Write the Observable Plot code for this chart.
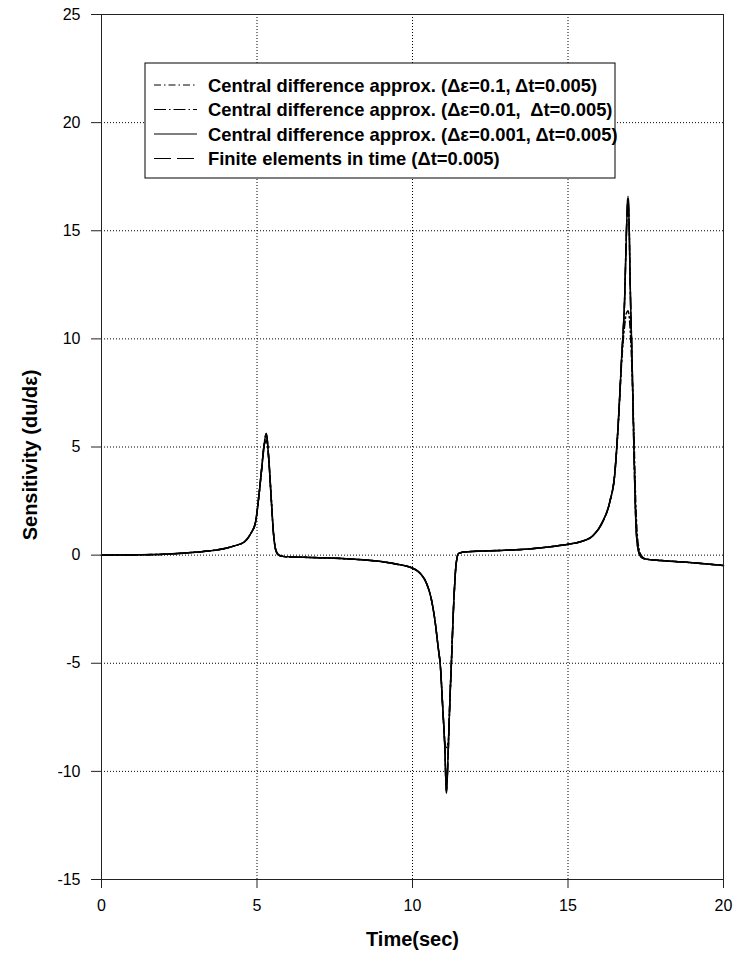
<!DOCTYPE html>
<html><head><meta charset="utf-8">
<script src="https://cdn.jsdelivr.net/npm/d3@7"></script>
<script src="https://cdn.jsdelivr.net/npm/@observablehq/plot@0.6"></script>
<style>
body{margin:0;background:#fff}
svg{font-family:"Liberation Sans",Arial,Helvetica,sans-serif}
</style>
</head><body><div id="chart"></div>
<script>
// Time (sec)
const time = [0,1,2,3,3.5, 4,4.3,4.6,4.8,4.95, 5.05,5.15,5.22,5.3,5.38, 5.46,5.53,5.6,5.7,5.85,
  6,6.5,7,8,9, 9.5,10,10.25,10.45,10.6, 10.72,10.82,10.9,10.97,11.04, 11.09,11.15,11.2,11.25,11.32,
  11.4,11.48,11.6,11.8,12.5, 13.5,14.5,15,15.4,15.8, 16.1,16.35,16.5,16.62,16.72, 16.82,16.88,16.93,16.97,17,
  17.06,17.12,17.18,17.25,17.35, 17.5,18,19,20];

// Central difference approx. (Δε=0.1)
const cd01 = [0,0.01,0.04,0.13,0.2, 0.32,0.44,0.62,1.0,1.5, 2.6,3.95,4.9,5.3,4.45, 2.6,1.05,0.28,0.0,-0.06,
  -0.08,-0.1,-0.12,-0.18,-0.3, -0.42,-0.6,-0.85,-1.3,-2.0, -3.0,-4.2,-5.2,-7.0,-8.6, -8.9,-8.6,-6.8,-5.0,-2.4,
  -0.45,0.08,0.13,0.16,0.2, 0.26,0.4,0.5,0.62,0.9, 1.5,2.5,3.7,6.1,8.8, 10.6,11.2,11.3,11.0,10.4,
  8.4,5.6,2.4,0.6,0.0, -0.18,-0.25,-0.35,-0.48];

// Central difference approx. (Δε=0.01)
const cd001 = [0,0.01,0.04,0.13,0.2, 0.32,0.44,0.62,1.0,1.5, 2.6,4.0,5.0,5.6,4.4, 2.55,1.0,0.25,0.0,-0.06,
  -0.08,-0.1,-0.12,-0.18,-0.3, -0.42,-0.6,-0.85,-1.3,-2.0, -3.0,-4.2,-5.2,-7.0,-8.9, -10.9,-9.0,-6.8,-5.0,-2.4,
  -0.45,0.08,0.13,0.16,0.2, 0.26,0.4,0.5,0.62,0.9, 1.5,2.5,3.7,6.2,9.0, 11.8,15.0,16.5,15.0,12.5,
  9.0,4.9,1.6,0.3,-0.08, -0.18,-0.25,-0.35,-0.48];

// Central difference approx. (Δε=0.001)
const cd0001 = [0,0.01,0.04,0.13,0.2, 0.32,0.44,0.62,1.0,1.5, 2.6,4.0,5.0,5.62,4.4, 2.55,1.0,0.25,0.0,-0.06,
  -0.08,-0.1,-0.12,-0.18,-0.3, -0.42,-0.6,-0.85,-1.3,-2.0, -3.0,-4.2,-5.2,-7.0,-8.9, -11.0,-9.0,-6.8,-5.0,-2.4,
  -0.45,0.08,0.13,0.16,0.2, 0.26,0.4,0.5,0.62,0.9, 1.5,2.5,3.7,6.2,9.0, 11.8,15.0,16.6,15.0,12.5,
  9.0,4.9,1.6,0.3,-0.08, -0.18,-0.25,-0.35,-0.48];

// Finite elements in time (Δt=0.005)
const fet = [0,0.01,0.04,0.13,0.2, 0.32,0.44,0.62,1.0,1.5, 2.6,4.0,5.0,5.62,4.4, 2.55,1.0,0.25,0.0,-0.06,
  -0.08,-0.1,-0.12,-0.18,-0.3, -0.42,-0.6,-0.85,-1.3,-2.0, -3.0,-4.2,-5.2,-7.0,-8.9, -11.0,-9.0,-6.8,-5.0,-2.4,
  -0.45,0.08,0.13,0.16,0.2, 0.26,0.4,0.5,0.62,0.9, 1.5,2.5,3.7,6.2,9.0, 11.8,15.0,16.6,15.0,12.5,
  9.0,4.9,1.6,0.3,-0.08, -0.18,-0.25,-0.35,-0.48];

const seriesLabels = [
  "Central difference approx. (\u0394\u03b5=0.1, \u0394t=0.005)",
  "Central difference approx. (\u0394\u03b5=0.01,\u00a0 \u0394t=0.005)",
  "Central difference approx. (\u0394\u03b5=0.001, \u0394t=0.005)",
  "Finite elements in time (\u0394t=0.005)"
];
const seriesValues = [cd01, cd001, cd0001, fet];
const seriesDash = ["7,3,1.5,3", "12,3,1.5,3", null, "17,6"];

const xTicks = [0, 5, 10, 15, 20];
const yTicks = [-15, -10, -5, 0, 5, 10, 15, 20, 25];
const xGrid = [5, 10, 15];
const yGrid = [-10, -5, 0, 5, 10, 15, 20];
const xTitle = "Time(sec)";
const yTitle = "Sensitivity (du/d\u03b5)";

const rows = [];
seriesValues.forEach((vals, s) => time.forEach((t, i) => rows.push({s, t, v: vals[i]})));

const lineFor = s => Plot.line(rows.filter(d => d.s === s), {
  x: "t", y: "v", stroke: "#000", strokeWidth: 1.5, curve: "monotone-x",
  strokeDasharray: seriesDash[s] || undefined
});

const chart = Plot.plot({
  width: 739, height: 968,
  marginLeft: 101, marginRight: 16, marginTop: 14, marginBottom: 89,
  style: {background: "#fff", color: "#000", fontSize: "16px", fontFamily: "'Liberation Sans', Arial, sans-serif"},
  x: {domain: [0, 20]},
  y: {domain: [-15, 25]},
  marks: [
    Plot.gridX(xGrid, {stroke: "#000", strokeOpacity: 1, strokeDasharray: "1,2"}),
    Plot.gridY(yGrid, {stroke: "#000", strokeOpacity: 1, strokeDasharray: "1,2"}),
    lineFor(0), lineFor(1), lineFor(3), lineFor(2),
    Plot.frame({stroke: "#222"}),
    Plot.axisX(xTicks, {tickSize: 9, tickPadding: 11, fontSize: 16, label: null, stroke: "#222", tickFormat: d => String(d)}),
    Plot.axisY(yTicks, {tickSize: 10, tickPadding: 11, fontSize: 16, label: null, stroke: "#222", tickFormat: d => String(d)}),
    Plot.text([xTitle], {text: d => d, frameAnchor: "bottom", dy: 66, fontWeight: "bold", fontSize: 20}),
    Plot.text([yTitle], {text: d => d, frameAnchor: "left", textAnchor: "middle", dx: -71, dy: 8, rotate: -90, fontWeight: "bold", fontSize: 20})
  ]
});

// Legend box drawn inside the plot area
const legend = {x: 145, y: 63, w: 470, h: 115, rowY: [85, 109.5, 134, 158.5], x1: 154, x2: 197, tx: 208, fontSize: 18.4};
const svg = d3.select(chart);
const g = svg.append("g").attr("text-anchor", "start");
g.append("rect").attr("x", legend.x).attr("y", legend.y).attr("width", legend.w).attr("height", legend.h)
  .attr("fill", "#fff").attr("stroke", "#000").attr("stroke-width", 1);
seriesLabels.forEach((lab, i) => {
  const yy = legend.rowY[i];
  g.append("line").attr("x1", legend.x1).attr("x2", legend.x2).attr("y1", yy).attr("y2", yy)
    .attr("stroke", "#000").attr("stroke-width", 1.2)
    .attr("stroke-dasharray", seriesDash[i] || null);
  g.append("text").attr("x", legend.tx).attr("y", yy + 6.5).attr("text-anchor", "start")
    .attr("font-size", legend.fontSize).attr("font-weight", "bold").attr("fill", "#000")
    .style("white-space", "pre").text(lab);
});

document.getElementById("chart").appendChild(chart);
</script>
</body></html>
